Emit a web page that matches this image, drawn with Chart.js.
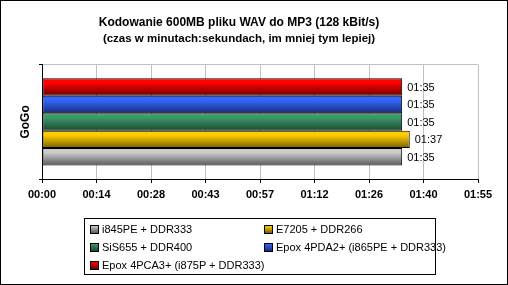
<!DOCTYPE html>
<html>
<head>
<meta charset="utf-8">
<script src="https://cdn.jsdelivr.net/npm/chart.js@4/dist/chart.umd.min.js"></script>
<style>
    html, body { margin: 0; padding: 0; background: #fff; }
    #wrap { position: relative; width: 508px; height: 285px; font-family: 'Liberation Sans', Arial, sans-serif; }
    #wrap canvas { position: absolute; left: 0; top: 0; }
    #frame { position: absolute; left: 0; top: 0; width: 508px; height: 285px; box-sizing: border-box; border: 1px solid #000; pointer-events: none; }
    #legend { position: absolute; left: 84px; top: 218px; width: 352px; height: 57px; box-sizing: border-box; border: 1px solid #000; background: #fff;
        display: grid; grid-template-columns: 174px 176px; grid-auto-rows: 18px; padding: 1px 0 0 5px; font-size: 11px; }
    .item { display: flex; align-items: center; white-space: nowrap; color: #000; }
    .sw { flex: 0 0 auto; width: 7px; height: 7px; border: 1px solid #000; margin-right: 3px; }
</style>
</head>
<body>
<div id="wrap">
    <canvas id="chart" width="508" height="285"></canvas>
    <div id="legend"></div>
    <div id="frame"></div>
</div>
<script>
// --- Data ---
const categories = ['GoGo'];
const seriesNames = ['Epox 4PCA3+ (i875P + DDR333)', 'Epox 4PDA2+ (i865PE + DDR333)', 'SiS655 + DDR400', 'E7205 + DDR266', 'i845PE + DDR333'];
const seriesSeconds = [95, 95, 95, 97, 95];
const tickLabels = ['00:00', '00:14', '00:28', '00:43', '00:57', '01:12', '01:26', '01:40', '01:55'];
const axisMax = 115;

// top / bottom gradient colours for each series
const topColors = ['#ff0000', '#3366ff', '#3a9a6a', '#ffcc00', '#cccccc'];
const bottomColors = ['#6e0000', '#1a2c7a', '#1c4630', '#776000', '#585858'];
const legendOrder = [4, 3, 2, 1, 0];

const fmt = (s) => {
    const m = Math.floor(s / 60), r = Math.round(s % 60);
    return String(m).padStart(2, '0') + ':' + String(r).padStart(2, '0');
};

// gradient per bar, built from the element's last computed position
function barFill(ctx) {
    const i = ctx.datasetIndex;
    const el = ctx.element;
    if (!el || el.y == null || !el.height) return topColors[i];
    const g = ctx.chart.ctx.createLinearGradient(0, el.y - el.height / 2, 0, el.y + el.height / 2);
    g.addColorStop(0, topColors[i]);
    g.addColorStop(0.25, topColors[i]);
    g.addColorStop(1, bottomColors[i]);
    return g;
}

const valueLabels = {
    id: 'valueLabels',
    afterDatasetsDraw(chart) {
        const c = chart.ctx;
        c.save();
        c.font = '11px "Liberation Sans", Arial, sans-serif';
        c.fillStyle = '#000';
        c.textBaseline = 'middle';
        c.textAlign = 'left';
        chart.data.datasets.forEach((ds, i) => {
            chart.getDatasetMeta(i).data.forEach((bar, j) => {
                c.fillText(fmt(ds.data[j]), bar.x + 5, bar.y + 1);
            });
        });
        c.restore();
    }
};

const chart = new Chart(document.getElementById('chart'), {
    type: 'bar',
    data: {
        labels: categories,
        datasets: seriesNames.map((name, i) => ({
            label: name,
            data: [seriesSeconds[i]],
            backgroundColor: barFill,
            borderColor: '#000',
            borderWidth: 1,
            borderSkipped: false,
            barPercentage: 1,
            categoryPercentage: 0.765
        }))
    },
    plugins: [valueLabels],
    options: {
        indexAxis: 'y',
        responsive: false,
        animation: false,
        devicePixelRatio: 1,
        layout: { padding: { left: 0, right: 30, top: 0, bottom: 84 } },
        plugins: {
            legend: { display: false },
            tooltip: { enabled: false },
            title: {
                display: true,
                text: 'Kodowanie 600MB pliku WAV do MP3 (128 kBit/s)',
                color: '#000',
                font: { family: "'Liberation Sans', Arial, sans-serif", size: 12, weight: 'bold', lineHeight: 1.25 },
                padding: { top: 15, bottom: 2 }
            },
            subtitle: {
                display: true,
                text: '(czas w minutach:sekundach, im mniej tym lepiej)',
                color: '#000',
                font: { family: "'Liberation Sans', Arial, sans-serif", size: 11.5, weight: 'bold', lineHeight: 1.2 },
                padding: { top: 0, bottom: 19 }
            }
        },
        scales: {
            x: {
                min: 0,
                max: axisMax,
                afterBuildTicks: (scale) => {
                    scale.ticks = tickLabels.map((t, i) => ({ value: axisMax * i / (tickLabels.length - 1) }));
                },
                afterFit: (scale) => { scale.height = 22; },
                grid: {
                    color: (ctx) => ctx.index === 0 ? '#000' : '#c0c0c0',
                    tickColor: '#000',
                    tickLength: 4
                },
                border: { color: '#000' },
                ticks: {
                    color: '#000',
                    padding: 5,
                    maxRotation: 0,
                    autoSkip: false,
                    font: { family: "'Liberation Sans', Arial, sans-serif", size: 11, weight: 'bold' },
                    callback: (v, i) => tickLabels[i]
                }
            },
            y: {
                afterFit: (scale) => { scale.width = 42; },
                grid: {
                    color: (ctx) => ctx.index === 0 ? '#c0c0c0' : '#000',
                    tickColor: '#000',
                    tickLength: 3,
                    offset: true
                },
                border: { color: '#000' },
                ticks: { display: false },
                title: {
                    display: true,
                    text: categories[0],
                    color: '#000',
                    font: { family: "'Liberation Sans', Arial, sans-serif", size: 12, weight: 'bold', lineHeight: 1.2 },
                    padding: { top: 18, bottom: 0 }
                }
            }
        }
    }
});
// second pass so the bar gradients use the laid-out positions
chart.update('none');

// --- Legend ---
const legend = document.getElementById('legend');
legendOrder.forEach((i) => {
    const item = document.createElement('div');
    item.className = 'item';
    const sw = document.createElement('span');
    sw.className = 'sw';
    sw.style.background = 'linear-gradient(' + topColors[i] + ', ' + bottomColors[i] + ')';
    item.appendChild(sw);
    item.appendChild(document.createTextNode(seriesNames[i]));
    legend.appendChild(item);
});
</script>
</body>
</html>
